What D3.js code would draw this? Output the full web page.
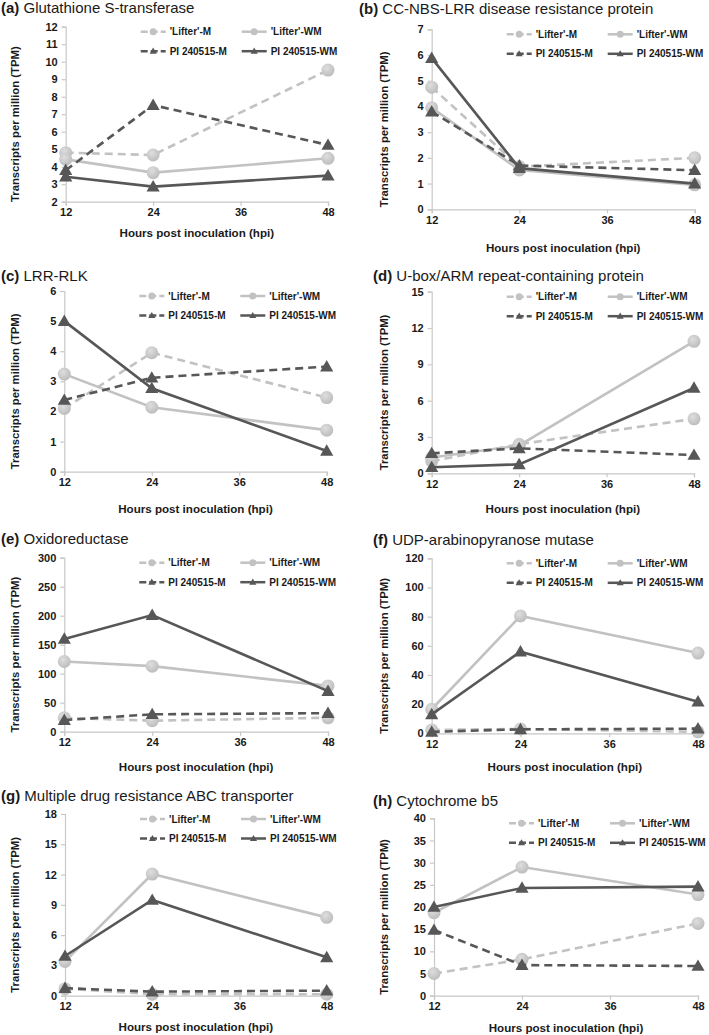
<!DOCTYPE html>
<html><head><meta charset="utf-8">
<script src="https://cdn.jsdelivr.net/npm/d3@7"></script>
<style>
html,body{margin:0;padding:0;background:#fff;}
svg{display:block;font-family:"Liberation Sans",Arial,Helvetica,sans-serif;}
</style></head>
<body><svg id="chart" width="709" height="1035"></svg>
<script>
// ---------- data ----------
const hpi = [12, 24, 48];
const xTickValues = [12, 24, 36, 48];
const seriesNames = ["'Lifter'-M", "'Lifter'-WM", "PI 240515-M", "PI 240515-WM"];
const panelLetters = ["(a)", "(b)", "(c)", "(d)", "(e)", "(f)", "(g)", "(h)"];
const panelTitles = ["Glutathione S-transferase", "CC-NBS-LRR disease resistance protein", "LRR-RLK",
  "U-box/ARM repeat-containing protein", "Oxidoreductase", "UDP-arabinopyranose mutase",
  "Multiple drug resistance ABC transporter", "Cytochrome b5"];
const xAxisTitle = "Hours post inoculation (hpi)";
const yAxisTitle = "Transcripts per million (TPM)";

const yTicksA = [2, 3, 4, 5, 6, 7, 8, 9, 10, 11, 12];
const yTicksB = [0, 1, 2, 3, 4, 5, 6, 7];
const yTicksC = [0, 1, 2, 3, 4, 5, 6];
const yTicksD = [0, 3, 6, 9, 12, 15];
const yTicksE = [0, 50, 100, 150, 200, 250, 300];
const yTicksF = [0, 20, 40, 60, 80, 100, 120];
const yTicksG = [0, 3, 6, 9, 12, 15, 18];
const yTicksH = [0, 5, 10, 15, 20, 25, 30, 35, 40];

// series order: 'Lifter'-M, 'Lifter'-WM, PI 240515-M, PI 240515-WM ; values at 12, 24, 48 hpi
const valuesA = [[4.8, 4.67, 9.52], [4.42, 3.66, 4.48], [3.8, 7.52, 5.24], [3.43, 2.86, 3.49]];
const valuesB = [[4.75, 1.66, 2.0], [3.95, 1.53, 0.95], [3.8, 1.7, 1.52], [5.88, 1.6, 1.0]];
const valuesC = [[2.1, 3.95, 2.46], [3.24, 2.14, 1.38], [2.38, 3.12, 3.49], [5.0, 2.77, 0.69]];
const valuesD = [[1.0, 2.4, 4.5], [1.3, 2.3, 10.9], [1.65, 2.06, 1.51], [0.5, 0.74, 7.05]];
const valuesE = [[24, 19, 24], [121, 113, 79], [20, 30, 32], [160, 201, 70]];
const valuesF = [[2.3, 3.0, 1.0], [16.5, 80.5, 55], [1.0, 2.7, 3.2], [13, 56, 21.7]];
const valuesG = [[0.7, 0.15, 0.15], [3.4, 12.05, 7.76], [0.75, 0.4, 0.5], [3.93, 9.48, 3.8]];
const valuesH = [[5, 8.2, 16.3], [18.7, 29, 22.8], [14.8, 6.9, 6.7], [20, 24.3, 24.6]];

const allTicks = [yTicksA, yTicksB, yTicksC, yTicksD, yTicksE, yTicksF, yTicksG, yTicksH];
const allValues = [valuesA, valuesB, valuesC, valuesD, valuesE, valuesF, valuesG, valuesH];

// ---------- layout (pixels) ----------
const layout = [
  {x0: 65.7, x1: 328,   top: 26.7,  bottom: 201.7, titleX: 1,   titleY: 13,  yTitleX: 19,  xTitleY: 237},
  {x0: 431.7, x1: 694.7, top: 29.3, bottom: 209.3, titleX: 359, titleY: 14,  yTitleX: 388, xTitleY: 252},
  {x0: 64.3, x1: 326.7, top: 291,   bottom: 471.7, titleX: 1,   titleY: 281, yTitleX: 19,  xTitleY: 513},
  {x0: 431.7, x1: 694,  top: 291.7, bottom: 473.3, titleX: 373, titleY: 281, yTitleX: 388, xTitleY: 513},
  {x0: 64.3, x1: 328,   top: 557.7, bottom: 731.7, titleX: 1,   titleY: 544, yTitleX: 19,  xTitleY: 771},
  {x0: 431.7, x1: 698,  top: 558.3, bottom: 733.3, titleX: 373, titleY: 545, yTitleX: 388, xTitleY: 771},
  {x0: 65,   x1: 326.7, top: 814,   bottom: 995.7, titleX: 1,   titleY: 801, yTitleX: 19,  xTitleY: 1031},
  {x0: 434,  x1: 698,   top: 818.3, bottom: 995.7, titleX: 373, titleY: 806, yTitleX: 388, xTitleY: 1032}
];

const lightCol = "#c2c2c2", darkCol = "#575757", axisCol = "#c8c8c8", textCol = "#1a1a1a";
const seriesStyle = [
  {color: lightCol, dash: "8,5", marker: "circle"},
  {color: lightCol, dash: null, marker: "circle"},
  {color: darkCol, dash: "8,5", marker: "triangle"},
  {color: darkCol, dash: null, marker: "triangle"}
];

const svg = d3.select("#chart");
const defs = svg.append("defs");
const grad = defs.append("radialGradient").attr("id", "circGrad").attr("cx", "40%").attr("cy", "35%").attr("r", "65%");
grad.append("stop").attr("offset", "0%").attr("stop-color", "#dedede");
grad.append("stop").attr("offset", "100%").attr("stop-color", "#bdbdbd");

const triSym = d3.symbol().type(d3.symbolTriangle);

function drawMarker(g, type, x, y, big) {
  if (type === "circle") {
    g.append("circle").attr("cx", x).attr("cy", y).attr("r", big ? 6.5 : 3.5)
      .attr("fill", big ? "url(#circGrad)" : lightCol);
  } else {
    g.append("path").attr("d", triSym.size(big ? 75 : 22)())
      .attr("transform", `translate(${x},${y + (big ? 1 : 0.5)})`)
      .attr("fill", darkCol);
  }
}

layout.forEach((L, p) => {
  const ticks = allTicks[p];
  const vals = allValues[p];
  const g = svg.append("g");

  const x = d3.scaleLinear().domain([12, 48]).range([L.x0, L.x1]);
  const y = d3.scaleLinear().domain([ticks[0], ticks[ticks.length - 1]]).range([L.bottom, L.top]);

  // title
  const t = g.append("text").attr("x", L.titleX).attr("y", L.titleY).attr("font-size", 15).attr("fill", textCol);
  t.append("tspan").attr("font-weight", "bold").text(panelLetters[p]);
  t.append("tspan").text(" " + panelTitles[p]);

  // axes
  const yAxis = d3.axisLeft(y).tickValues(ticks).tickSize(4).tickPadding(4).tickFormat(d3.format("d"));
  const ya = g.append("g").attr("transform", `translate(${L.x0},0)`).call(yAxis);
  const xAxis = d3.axisBottom(x).tickValues(xTickValues).tickSize(4).tickPadding(3).tickFormat(d3.format("d"));
  const xa = g.append("g").attr("transform", `translate(0,${L.bottom})`).call(xAxis);
  [ya, xa].forEach(a => {
    a.select(".domain").attr("stroke", axisCol).attr("stroke-width", 1.2);
    a.selectAll(".tick line").attr("stroke", axisCol).attr("stroke-width", 1.2);
    a.selectAll(".tick text").attr("font-size", 11).attr("font-weight", "bold").attr("fill", textCol)
      .attr("font-family", "Liberation Sans, Arial, sans-serif");
  });

  // axis titles
  g.append("text").attr("x", (L.x0 + L.x1) / 2).attr("y", L.xTitleY).attr("text-anchor", "middle")
    .attr("font-size", 11.6).attr("font-weight", "bold").attr("fill", textCol).text(xAxisTitle);
  g.append("text").attr("transform", `translate(${L.yTitleX},${(L.top + L.bottom) / 2 + 10}) rotate(-90)`)
    .attr("text-anchor", "middle").attr("font-size", 11.3).attr("font-weight", "bold").attr("fill", textCol)
    .text(yAxisTitle);

  // legend
  seriesNames.forEach((name, i) => {
    const st = seriesStyle[i];
    const col = i % 2, row = Math.floor(i / 2);
    const lx = L.x0 + (col === 0 ? 75 : 176);
    const ly = L.top + 5 + row * 19.5;
    const lg = g.append("g");
    lg.append("line").attr("x1", lx).attr("x2", lx + 25).attr("y1", ly).attr("y2", ly)
      .attr("stroke", st.color).attr("stroke-width", 2.5).attr("stroke-dasharray", st.dash ? "7,3" : null);
    drawMarker(lg, st.marker, lx + 12.5, ly, false);
    lg.append("text").attr("x", lx + 29).attr("y", ly + 3.5).attr("font-size", 10).attr("font-weight", "bold")
      .attr("fill", textCol).text(name);
  });

  // series
  const line = d3.line().x((d, j) => x(hpi[j])).y(d => y(d));
  vals.forEach((sv, i) => {
    const st = seriesStyle[i];
    const sg = g.append("g");
    sg.append("path").attr("d", line(sv)).attr("fill", "none").attr("stroke", st.color)
      .attr("stroke-width", 2.6).attr("stroke-dasharray", st.dash);
    sv.forEach((v, j) => drawMarker(sg, st.marker, x(hpi[j]), y(v), true));
  });
});
</script>
</body></html>
